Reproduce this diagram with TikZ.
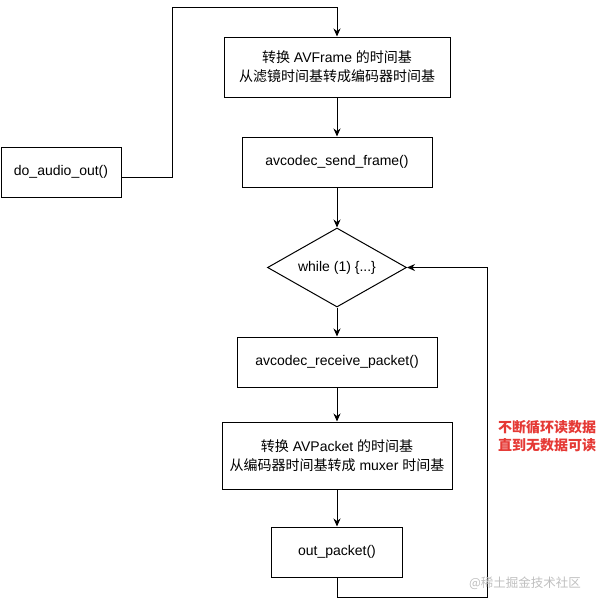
\documentclass[tikz,border=0pt]{standalone}
\usepackage{fontspec}
\setmainfont{Liberation Sans}
\newfontfamily\cjk{Noto Sans CJK SC}
\usetikzlibrary{positioning, arrows.meta, shapes.geometric}
\definecolor{notered}{HTML}{E53935}

\begin{document}
\begin{tikzpicture}[
  x=1pt, y=-1pt,
  font=\fontsize{14}{19}\selectfont,
  box/.style={draw, line width=1pt, minimum height=50pt, align=center, inner sep=3pt},
  decision/.style={draw, line width=1pt, diamond, aspect=1.76, inner sep=0pt, minimum width=139pt, minimum height=79pt},
  flow/.style={-{Stealth[length=8pt, width=7pt]}, line width=1pt},
  note/.style={font=\cjk\fontsize{14}{18}\selectfont\bfseries, text=notered, align=left}
]
\useasboundingbox (0,0) rectangle (598,606);
% --- main column ---
\node[box, minimum width=226pt, minimum height=60pt] (tbframe) at (337,67)
  {{\cjk 转换} AVFrame {\cjk 的时间基}\\{\cjk 从滤镜时间基转成编码器时间基}};
\node[box, minimum width=190pt, below=39pt of tbframe] (send) {avcodec\_send\_frame()};
\node[decision, below=40pt of send] (loop) {while (1) \{...\}};
\node[box, minimum width=200pt, below=29pt of loop] (recv) {avcodec\_receive\_packet()};
\node[box, minimum width=230pt, minimum height=67pt, below=34pt of recv] (tbpkt)
  {{\cjk 转换} AVPacket {\cjk 的时间基}\\{\cjk 从编码器时间基转成} muxer {\cjk 时间基}};
\node[box, minimum width=131pt, below=37pt of tbpkt] (out) {out\_packet()};
% --- entry ---
\node[box, minimum width=120pt, anchor=west] (audio) at (0.5,172) {do\_audio\_out()};
\coordinate (top) at (172,7);
\draw[flow] ([yshift=-5pt]audio.east) -| (top) -| (tbframe.north);
\draw[flow] (tbframe) -- (send);
\draw[flow] (send) -- (loop);
\draw[flow] (loop) -- (recv);
\draw[flow] (recv) -- (tbpkt);
\draw[flow] (tbpkt) -- (out);
% --- loop back ---
\coordinate (back) at (487,597);
\draw[flow] (out.south) |- (back) |- (loop.east);
\node[note] (hint) at (547,436) {不断循环读数据\\直到无数据可读};
\node[font=\cjk\fontsize{12.5}{14}\selectfont, text=black!25] (mark) at (525,583) {@稀土掘金技术社区};
\end{tikzpicture}
\end{document}
